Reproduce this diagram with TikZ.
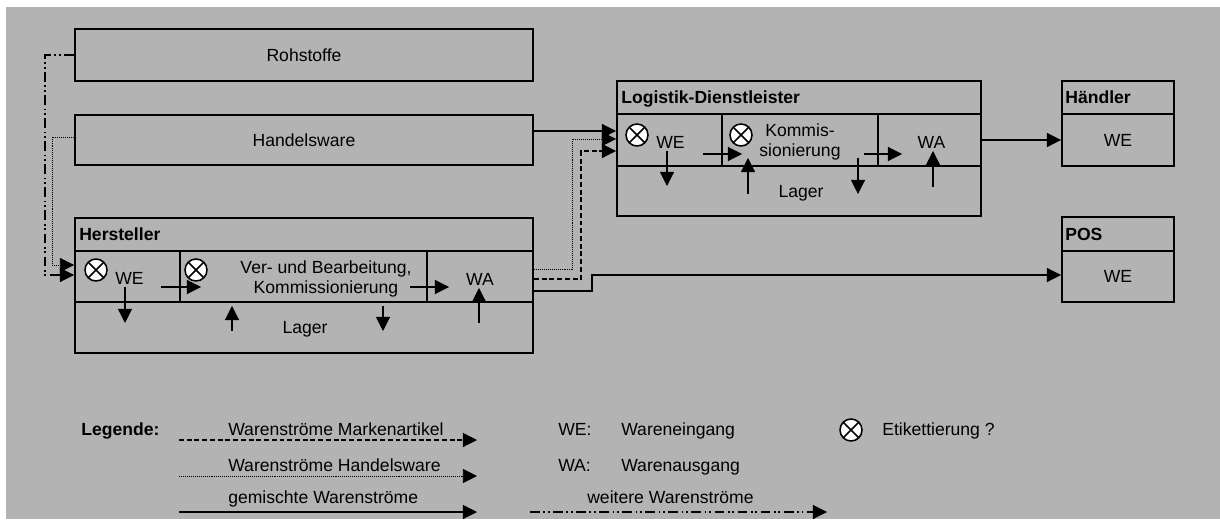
\documentclass[tikz,border=0pt]{standalone}
\usepackage{fontspec}
\setmainfont{Liberation Sans}
\usetikzlibrary{arrows.meta,fit}
\definecolor{bggray}{RGB}{179,179,179}

\begin{document}
\begin{tikzpicture}[
            x=0.025cm, y=-0.025cm,
            every node/.style={font=\fontsize{12.5pt}{14.5pt}\selectfont, inner sep=0pt},
            every label/.style={inner sep=0pt},
            box/.style={draw, line width=1.4pt, rectangle},
            boxtitle/.style={font=\fontsize{12.5pt}{14.5pt}\selectfont\bfseries, anchor=base west},
            flow/.style={line width=0.75pt, -{Triangle[length=10pt, width=10pt]}},
            mixflow/.style={flow},
            brandflow/.style={flow, dash pattern=on 3.5pt off 2pt},
            tradeflow/.style={flow, line width=0.55pt, dash pattern=on 0.6pt off 0.8pt},
            otherflow/.style={flow, dash pattern=on 7pt off 2.5pt on 1.2pt off 2pt on 1.2pt off 2.5pt},
            etik/.style={circle, draw, line width=1.1pt, fill=white, minimum size={22*0.025cm},
                path picture={\draw[line width=1.1pt] (path picture bounding box.north west) -- (path picture bounding box.south east)
                    (path picture bounding box.north east) -- (path picture bounding box.south west);}},
        ]
            \useasboundingbox (0,0) rectangle (1220,519);
            \fill[bggray] (6,7) rectangle (1220,519);

            \node[box, fit={(75,29) (533,81)}, label={[name=rohTxt]center:Rohstoffe}] (roh) {};
            \node[box, fit={(75,115) (533,165)}, label={[name=hwTxt]center:Handelsware}] (hw) {};

            \node[box, fit={(75,218) (533,251)}] (herT) {};
            \node[box, fit={(75,251) (180,302)}] (herWE) {};
            \node[box, fit={(180,251) (427,302)}] (herVB) {};
            \node[box, fit={(427,251) (533,302)}] (herWA) {};
            \node[box, fit={(75,302) (533,353)}] (herL) {};
            \node[boxtitle] (herName) at ([shift={(5,6)}]herT.west) {Hersteller};
            \node (herWEtxt) at ([shift={(2,1.5)}]herWE.center) {WE};
            \node (herWAtxt) at ([shift={(0,3)}]herWA.center) {WA};
            \node (herLtxt) at ([shift={(1,1.5)}]herL.center) {Lager};
            \node[align=center] (herVBtxt) at (326,279) {Ver- und Bearbeitung,\\Kommissionierung};
            \node[etik] (herE1) at (96,270) {};
            \node[etik] (herE2) at (196,270) {};

            \draw[flow] ([shift={(-18,10.5)}]herVB.west) -- ([shift={(22,10.5)}]herVB.west);
            \draw[flow] ([shift={(-16,10.5)}]herWA.west) -- ([shift={(23,10.5)}]herWA.west);
            \draw[flow] ([shift={(-2.5,-16)}]herWE.south) -- ([shift={(-2.5,20)}]herWE.south);
            \draw[flow] ([shift={(-71.5,28)}]herVB.south) -- ([shift={(-71.5,3)}]herVB.south);
            \draw[flow] ([shift={(79.5,3)}]herVB.south) -- ([shift={(79.5,28)}]herVB.south);
            \draw[flow] ([shift={(-1,20)}]herWA.south) -- ([shift={(-1,-15)}]herWA.south);

            \node[box, fit={(617,81) (981,114)}] (logT) {};
            \node[box, fit={(617,114) (722,166)}] (logWE) {};
            \node[box, fit={(722,114) (878,166)}] (logKo) {};
            \node[box, fit={(878,114) (981,166)}] (logWA) {};
            \node[box, fit={(617,166) (981,216)}] (logL) {};
            \node[boxtitle] (logName) at ([shift={(5,6)}]logT.west) {Logistik-Dienstleister};
            \node (logWEtxt) at ([shift={(1,2)}]logWE.center) {WE};
            \node (logWAtxt) at ([shift={(2,2)}]logWA.center) {WA};
            \node (logLtxt) at ([shift={(2,2)}]logL.center) {Lager};
            \node[align=center] (logKotxt) at (800,142) {Kommis-\\sionierung};
            \node[etik] (logE1) at (637,135) {};
            \node[etik] (logE2) at (741,135) {};

            \draw[flow] ([shift={(-18,14)}]logKo.west) -- ([shift={(21,14)}]logKo.west);
            \draw[flow] ([shift={(-13,14)}]logWA.west) -- ([shift={(25,14)}]logWA.west);
            \draw[flow] ([shift={(-2.5,-16)}]logWE.south) -- ([shift={(-2.5,19)}]logWE.south);
            \draw[flow] ([shift={(-52,27)}]logKo.south) -- ([shift={(-52,-9)}]logKo.south);
            \draw[flow] ([shift={(58,-9)}]logKo.south) -- ([shift={(58,27)}]logKo.south);
            \draw[flow] ([shift={(3.5,20)}]logWA.south) -- ([shift={(3.5,-16)}]logWA.south);

            \node[box, fit={(1062,81) (1174,114)}] (haeT) {};
            \node[box, fit={(1062,114) (1174,166)}, label={[name=haeWEtxt]center:WE}] (haeWE) {};
            \node[boxtitle] (haeName) at ([shift={(4,6)}]haeT.west) {Händler};

            \node[box, fit={(1062,217) (1174,251)}] (posT) {};
            \node[box, fit={(1062,251) (1174,302)}, label={[name=posWEtxt]center:WE}] (posWE) {};
            \node[boxtitle] (posName) at ([shift={(4,6)}]posT.west) {POS};

            \draw[otherflow] (roh.west) -- ++(-29,0) |- ([shift={(0,-1.5)}]herWE.west);
            \draw[tradeflow] ([shift={(0,-3)}]hw.west) -- ++(-22,0) |- ([shift={(0,-11.5)}]herWE.west);
            \draw[mixflow] ([shift={(0,-9)}]hw.east) -- ([shift={(0,-9)}]logWE.west);
            \draw[tradeflow] ([shift={(0,-7.5)}]herWA.east) -- ++(38,0) |- ([shift={(0,-1)}]logWE.west);
            \draw[brandflow] ([shift={(0,2.5)}]herWA.east) -- ++(47,0) |- ([shift={(0,11)}]logWE.west);
            \draw[mixflow] ([shift={(0,14.5)}]herWA.east) -- ++(58,0) |- ([shift={(0,-1.5)}]posWE.west);
            \draw[mixflow] (logWA.east) -- (haeWE.west);

            \node[boxtitle] (leg) at (81,435) {Legende:};
            \coordinate (brandA) at (179,440);
            \coordinate (brandB) at (477,440);
            \coordinate (tradeA) at (179,476);
            \coordinate (tradeB) at (477,476);
            \coordinate (mixA) at (179,512);
            \coordinate (mixB) at (477,512);
            \coordinate (otherA) at (530,512);
            \coordinate (otherB) at (827,512);
            \draw[brandflow] (brandA) -- (brandB);
            \draw[tradeflow] (tradeA) -- (tradeB);
            \draw[mixflow] (mixA) -- (mixB);
            \draw[otherflow] (otherA) -- (otherB);
            \node[anchor=base west] (brandTxt) at (228,435) {Warenströme Markenartikel};
            \node[anchor=base west] (tradeTxt) at (228,471) {Warenströme Handelsware};
            \node[anchor=base west] (mixTxt) at (228,503) {gemischte Warenströme};
            \node[anchor=base west] (otherTxt) at (587,503) {weitere Warenströme};

            \node[anchor=base west] (weKey) at (558,435) {WE:};
            \node[anchor=base west] (weVal) at (621,435) {Wareneingang};
            \node[anchor=base west] (waKey) at (558,471) {WA:};
            \node[anchor=base west] (waVal) at (621,471) {Warenausgang};
            \node[etik] (etikKey) at (851,430) {};
            \node[anchor=base west] (etikVal) at (882,435) {Etikettierung ?};
        \end{tikzpicture}
\end{document}
